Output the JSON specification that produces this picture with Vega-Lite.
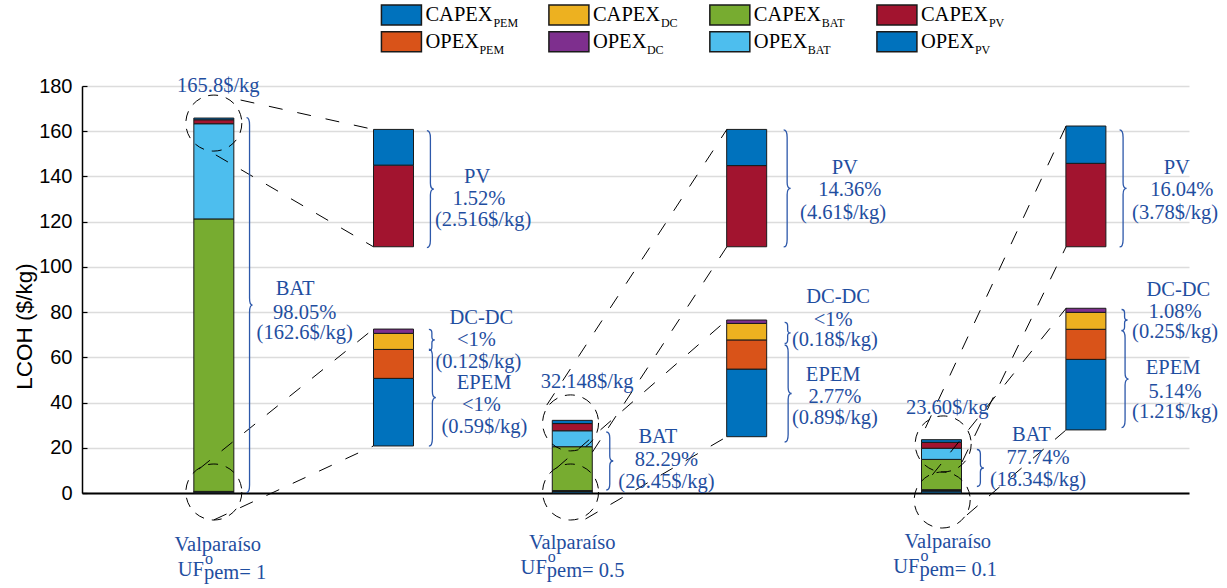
{
 "$schema": "https://vega.github.io/schema/vega-lite/v6.json",
 "width": 1107, "height": 407,
 "autosize": {"type": "none"},
 "padding": {"left": 82, "top": 86, "right": 38, "bottom": 95},
 "background": "white",
 "config": {
  "view": {"stroke": null},
  "axisY": {"tickCount": 10, "grid": true, "gridColor": "#dcdcdc", "gridWidth": 1.5, "domainColor": "black", "domainWidth": 1.5, "tickColor": "black", "tickSize": -5, "tickWidth": 1.2, "labelPadding": 15, "labelFont": "Liberation Sans", "labelFontSize": 20, "labelColor": "black", "titleFont": "Liberation Sans", "titleFontSize": 22.5, "titleFontWeight": "normal", "titleColor": "black", "titleX": -46, "titleY": 240},
  "axisX": {"domain": true, "domainColor": "black", "domainWidth": 2, "labels": false, "ticks": false, "grid": false}
 },
 "datasets": {
  "bars": [
   {"site": "S1", "pos": 12.8, "comp": "CAPEX_PEM", "k": 1, "v": 0.41},
   {"site": "S1", "pos": 12.8, "comp": "OPEX_PEM", "k": 2, "v": 0.18},
   {"site": "S1", "pos": 12.8, "comp": "CAPEX_DC", "k": 3, "v": 0.095},
   {"site": "S1", "pos": 12.8, "comp": "OPEX_DC", "k": 4, "v": 0.025},
   {"site": "S1", "pos": 12.8, "comp": "CAPEX_BAT", "k": 5, "v": 120.5},
   {"site": "S1", "pos": 12.8, "comp": "OPEX_BAT", "k": 6, "v": 42.1},
   {"site": "S1", "pos": 12.8, "comp": "CAPEX_PV", "k": 7, "v": 1.75},
   {"site": "S1", "pos": 12.8, "comp": "OPEX_PV", "k": 8, "v": 0.766},
   {"site": "S2", "pos": 48.97, "comp": "CAPEX_PEM", "k": 1, "v": 0.62},
   {"site": "S2", "pos": 48.97, "comp": "OPEX_PEM", "k": 2, "v": 0.27},
   {"site": "S2", "pos": 48.97, "comp": "CAPEX_DC", "k": 3, "v": 0.15},
   {"site": "S2", "pos": 48.97, "comp": "OPEX_DC", "k": 4, "v": 0.03},
   {"site": "S2", "pos": 48.97, "comp": "CAPEX_BAT", "k": 5, "v": 19.4},
   {"site": "S2", "pos": 48.97, "comp": "OPEX_BAT", "k": 6, "v": 7.05},
   {"site": "S2", "pos": 48.97, "comp": "CAPEX_PV", "k": 7, "v": 3.19},
   {"site": "S2", "pos": 48.97, "comp": "OPEX_PV", "k": 8, "v": 1.42},
   {"site": "S3", "pos": 86.23, "comp": "CAPEX_PEM", "k": 1, "v": 0.85},
   {"site": "S3", "pos": 86.23, "comp": "OPEX_PEM", "k": 2, "v": 0.36},
   {"site": "S3", "pos": 86.23, "comp": "CAPEX_DC", "k": 3, "v": 0.2},
   {"site": "S3", "pos": 86.23, "comp": "OPEX_DC", "k": 4, "v": 0.05},
   {"site": "S3", "pos": 86.23, "comp": "CAPEX_BAT", "k": 5, "v": 13.4},
   {"site": "S3", "pos": 86.23, "comp": "OPEX_BAT", "k": 6, "v": 4.94},
   {"site": "S3", "pos": 86.23, "comp": "CAPEX_PV", "k": 7, "v": 2.61},
   {"site": "S3", "pos": 86.23, "comp": "OPEX_PV", "k": 8, "v": 1.17}
  ],
  "insets": [
   {"pos": 30.93, "comp": "CAPEX_PV", "lo": 108.9, "hi": 145.0},
   {"pos": 30.93, "comp": "OPEX_PV", "lo": 145.0, "hi": 160.8},
   {"pos": 30.93, "comp": "CAPEX_PEM", "lo": 20.8, "hi": 50.7},
   {"pos": 30.93, "comp": "OPEX_PEM", "lo": 50.7, "hi": 63.5},
   {"pos": 30.93, "comp": "CAPEX_DC", "lo": 63.5, "hi": 70.6},
   {"pos": 30.93, "comp": "OPEX_DC", "lo": 70.6, "hi": 72.5},
   {"pos": 66.57, "comp": "CAPEX_PV", "lo": 108.9, "hi": 144.8},
   {"pos": 66.57, "comp": "OPEX_PV", "lo": 144.8, "hi": 160.8},
   {"pos": 66.57, "comp": "CAPEX_PEM", "lo": 24.9, "hi": 54.8},
   {"pos": 66.57, "comp": "OPEX_PEM", "lo": 54.8, "hi": 67.7},
   {"pos": 66.57, "comp": "CAPEX_DC", "lo": 67.7, "hi": 75.0},
   {"pos": 66.57, "comp": "OPEX_DC", "lo": 75.0, "hi": 76.5},
   {"pos": 100.8, "comp": "CAPEX_PV", "lo": 108.9, "hi": 145.8},
   {"pos": 100.8, "comp": "OPEX_PV", "lo": 145.8, "hi": 162.3},
   {"pos": 100.8, "comp": "CAPEX_PEM", "lo": 27.9, "hi": 59.1},
   {"pos": 100.8, "comp": "OPEX_PEM", "lo": 59.1, "hi": 72.4},
   {"pos": 100.8, "comp": "CAPEX_DC", "lo": 72.4, "hi": 79.9},
   {"pos": 100.8, "comp": "OPEX_DC", "lo": 79.9, "hi": 81.7}
  ],
  "zoomlines": [
   {"xa": 15.5, "ya": 173.8, "xb": 28.9, "yb": 160.8},
   {"xa": 13.0, "ya": 149.5, "xb": 28.9, "yb": 108.9},
   {"xa": 11.3, "ya": 10.6, "xb": 28.9, "yb": 72.5},
   {"xa": 12.8, "ya": -11.9, "xb": 28.9, "yb": 20.8},
   {"xa": 46.4, "ya": 38.9, "xb": 64.57, "yb": 160.8},
   {"xa": 51.0, "ya": 18.1, "xb": 64.57, "yb": 108.9},
   {"xa": 47.4, "ya": 11.1, "xb": 64.57, "yb": 76.5},
   {"xa": 50.3, "ya": -11.5, "xb": 64.57, "yb": 24.9},
   {"xa": 84.6, "ya": 28.7, "xb": 98.8, "yb": 162.3},
   {"xa": 88.3, "ya": 13.7, "xb": 98.8, "yb": 108.9},
   {"xa": 85.3, "ya": 8.0, "xb": 98.8, "yb": 81.7},
   {"xa": 88.8, "ya": -9.7, "xb": 98.8, "yb": 27.9}
  ],
  "ellipses": [
   {"x": 12.8, "y": 163.6}, {"x": 12.8, "y": 0.44},
   {"x": 48.8, "y": 31.0}, {"x": 48.8, "y": 0.44},
   {"x": 86.4, "y": 21.7}, {"x": 86.3, "y": -3.1}
  ],
  "braces": [
   {"x": 16.1, "y": 83.1, "kind": "bat1"},
   {"x": 34.3, "y": 134.4, "kind": "pv"},
   {"x": 70.3, "y": 134.7, "kind": "pv"},
   {"x": 104.2, "y": 134.7, "kind": "pv"},
   {"x": 34.5, "y": 67.7, "kind": "dc"},
   {"x": 70.4, "y": 70.8, "kind": "dc"},
   {"x": 104.4, "y": 76.5, "kind": "dc"},
   {"x": 34.5, "y": 42.2, "kind": "epem"},
   {"x": 70.4, "y": 44.0, "kind": "epem"},
   {"x": 104.4, "y": 50.4, "kind": "epem"},
   {"x": 52.4, "y": 14.15, "kind": "bat2"},
   {"x": 89.8, "y": 11.06, "kind": "bat3"}
  ],
  "labels": [
   {"x": 13.25, "y": 180.0, "t": "165.8$/kg"},
   {"x": 21.0, "y": 90.2, "t": "BAT"},
   {"x": 21.97, "y": 79.8, "t": "98.05%"},
   {"x": 21.97, "y": 70.8, "t": "(162.6$/kg)"},
   {"x": 13.2, "y": -23.0, "t": "Valparaíso"},
   {"x": 39.37, "y": 139.9, "t": "PV"},
   {"x": 39.55, "y": 130.0, "t": "1.52%"},
   {"x": 39.97, "y": 120.7, "t": "(2.516$/kg)"},
   {"x": 39.8, "y": 77.4, "t": "DC-DC"},
   {"x": 39.3, "y": 67.7, "t": "<1%"},
   {"x": 39.5, "y": 58.1, "t": "(0.12$/kg)"},
   {"x": 40.07, "y": 48.6, "t": "EPEM"},
   {"x": 39.8, "y": 38.9, "t": "<1%"},
   {"x": 40.1, "y": 29.3, "t": "(0.59$/kg)"},
   {"x": 50.47, "y": 49.2, "t": "32.148$/kg"},
   {"x": 57.6, "y": 24.9, "t": "BAT"},
   {"x": 58.47, "y": 14.6, "t": "82.29%"},
   {"x": 58.47, "y": 5.0, "t": "(26.45$/kg)"},
   {"x": 48.97, "y": -22.2, "t": "Valparaíso"},
   {"x": 76.47, "y": 143.6, "t": "PV"},
   {"x": 76.97, "y": 134.0, "t": "14.36%"},
   {"x": 76.3, "y": 123.7, "t": "(4.61$/kg)"},
   {"x": 75.8, "y": 86.8, "t": "DC-DC"},
   {"x": 75.3, "y": 76.5, "t": "<1%"},
   {"x": 75.47, "y": 67.7, "t": "(0.18$/kg)"},
   {"x": 75.3, "y": 52.2, "t": "EPEM"},
   {"x": 75.47, "y": 42.6, "t": "2.77%"},
   {"x": 75.47, "y": 33.0, "t": "(0.89$/kg)"},
   {"x": 86.8, "y": 37.6, "t": "23.60$/kg"},
   {"x": 95.3, "y": 25.65, "t": "BAT"},
   {"x": 95.97, "y": 15.35, "t": "77.74%"},
   {"x": 95.97, "y": 5.75, "t": "(18.34$/kg)"},
   {"x": 86.87, "y": -21.5, "t": "Valparaíso"},
   {"x": 109.97, "y": 143.6, "t": "PV"},
   {"x": 110.47, "y": 134.0, "t": "16.04%"},
   {"x": 109.8, "y": 123.7, "t": "(3.78$/kg)"},
   {"x": 110.13, "y": 89.8, "t": "DC-DC"},
   {"x": 109.8, "y": 80.2, "t": "1.08%"},
   {"x": 109.8, "y": 71.3, "t": "(0.25$/kg)"},
   {"x": 109.6, "y": 55.15, "t": "EPEM"},
   {"x": 109.8, "y": 44.8, "t": "5.14%"},
   {"x": 109.8, "y": 35.96, "t": "(1.21$/kg)"}
  ],
  "uf": [
   {"x": 11.8, "y": -34.05, "head": "UF", "sup": "o", "tail": "pem= 1"},
   {"x": 46.4, "y": -33.2, "head": "UF", "sup": "o", "tail": "pem= 0.5"},
   {"x": 84.0, "y": -32.6, "head": "UF", "sup": "o", "tail": "pem= 0.1"}
  ],
  "legend": [
   {"comp": "CAPEX_PEM", "main": "CAPEX", "sub": "PEM", "lx": 31.73, "ly": 211.4},
   {"comp": "CAPEX_DC", "main": "CAPEX", "sub": "DC", "lx": 48.63, "ly": 211.4},
   {"comp": "CAPEX_BAT", "main": "CAPEX", "sub": "BAT", "lx": 64.87, "ly": 211.4},
   {"comp": "CAPEX_PV", "main": "CAPEX", "sub": "PV", "lx": 81.73, "ly": 211.4},
   {"comp": "OPEX_PEM", "main": "OPEX", "sub": "PEM", "lx": 31.73, "ly": 199.6},
   {"comp": "OPEX_DC", "main": "OPEX", "sub": "DC", "lx": 48.63, "ly": 199.6},
   {"comp": "OPEX_BAT", "main": "OPEX", "sub": "BAT", "lx": 64.87, "ly": 199.6},
   {"comp": "OPEX_PV", "main": "OPEX", "sub": "PV", "lx": 81.73, "ly": 199.6}
  ]
 },
 "layer": [
  {
   "data": {"name": "bars"},
   "transform": [{"stack": "v", "groupby": ["site"], "sort": [{"field": "k", "order": "ascending"}], "as": ["v0", "v1"]}],
   "mark": {"type": "bar", "width": 40, "stroke": "#1a1a1a", "strokeWidth": 1},
   "encoding": {
    "x": {"field": "pos", "type": "quantitative", "scale": {"domain": [0, 110.7], "nice": false, "zero": false}, "title": null},
    "y": {"field": "v0", "type": "quantitative", "scale": {"domain": [0, 180], "nice": false}, "title": "LCOH ($/kg)"},
    "y2": {"field": "v1"},
    "fill": {"field": "comp", "type": "nominal", "legend": null, "scale": {"domain": ["CAPEX_PEM", "OPEX_PEM", "CAPEX_DC", "OPEX_DC", "CAPEX_BAT", "OPEX_BAT", "CAPEX_PV", "OPEX_PV"], "range": ["#0072BD", "#D95319", "#EDB120", "#7E2F8E", "#77AC30", "#4DBEEE", "#A2142F", "#0072BD"]}}
   }
  },
  {
   "data": {"name": "insets"},
   "mark": {"type": "bar", "width": 40, "stroke": "#1a1a1a", "strokeWidth": 1},
   "encoding": {
    "x": {"field": "pos", "type": "quantitative", "scale": {"domain": [0, 110.7], "nice": false, "zero": false}, "title": null},
    "y": {"field": "lo", "type": "quantitative", "scale": {"domain": [0, 180], "nice": false}, "title": "LCOH ($/kg)"},
    "y2": {"field": "hi"},
    "fill": {"field": "comp", "type": "nominal", "legend": null, "scale": {"domain": ["CAPEX_PEM", "OPEX_PEM", "CAPEX_DC", "OPEX_DC", "CAPEX_BAT", "OPEX_BAT", "CAPEX_PV", "OPEX_PV"], "range": ["#0072BD", "#D95319", "#EDB120", "#7E2F8E", "#77AC30", "#4DBEEE", "#A2142F", "#0072BD"]}}
   }
  },
  {
   "data": {"name": "zoomlines"},
   "mark": {"type": "rule", "color": "black", "strokeWidth": 1, "strokeDash": [14, 15]},
   "encoding": {
    "x": {"field": "xa", "type": "quantitative", "scale": {"domain": [0, 110.7], "nice": false, "zero": false}, "title": null},
    "y": {"field": "ya", "type": "quantitative", "scale": {"domain": [0, 180], "nice": false}, "title": "LCOH ($/kg)"},
    "x2": {"field": "xb"},
    "y2": {"field": "yb"}
   }
  },
  {
   "data": {"name": "ellipses"},
   "mark": {"type": "point", "shape": "circle", "size": 3136, "filled": false, "color": "black", "strokeWidth": 1, "strokeDash": [10, 8], "opacity": 1},
   "encoding": {
    "x": {"field": "x", "type": "quantitative", "scale": {"domain": [0, 110.7], "nice": false, "zero": false}, "title": null},
    "y": {"field": "y", "type": "quantitative", "scale": {"domain": [0, 180], "nice": false}, "title": "LCOH ($/kg)"}
   }
  },
  {
   "data": {"name": "braces"},
   "mark": {"type": "point", "size": 4, "filled": false, "color": "#2D58AA", "strokeWidth": 1.3, "opacity": 1},
   "encoding": {
    "x": {"field": "x", "type": "quantitative", "scale": {"domain": [0, 110.7], "nice": false, "zero": false}, "title": null},
    "y": {"field": "y", "type": "quantitative", "scale": {"domain": [0, 180], "nice": false}, "title": "LCOH ($/kg)"},
    "shape": {"field": "kind", "type": "nominal", "legend": null, "scale": {"domain": ["bat1", "pv", "dc", "epem", "bat2", "bat3"], "range": [
     "M0,-187.5 C2,-187.5 3,-185 3,-180 L3,-7 C3,-2 4,0 6,0 C4,0 3,2 3,7 L3,180 C3,185 2,187.5 0,187.5",
     "M0,-58.5 C2.5,-58.5 3.5,-56 3.5,-51 L3.5,-6 C3.5,-2 4.5,0 7,0 C4.5,0 3.5,2 3.5,6 L3.5,51 C3.5,56 2.5,58.5 0,58.5",
     "M0,-10.5 C2,-10.5 3,-9 3,-7 L3,-3 C3,-1 4,0 6,0 C4,0 3,1 3,3 L3,7 C3,9 2,10.5 0,10.5",
     "M0,-48.5 C2.5,-48.5 3.5,-46 3.5,-41 L3.5,-6 C3.5,-2 4.5,0 7,0 C4.5,0 3.5,2 3.5,6 L3.5,41 C3.5,46 2.5,48.5 0,48.5",
     "M0,-29 C2.5,-29 3.5,-27 3.5,-23 L3.5,-5 C3.5,-2 4.5,0 7,0 C4.5,0 3.5,2 3.5,5 L3.5,23 C3.5,27 2.5,29 0,29",
     "M0,-18.5 C2.5,-18.5 3.5,-17 3.5,-14 L3.5,-4 C3.5,-1.5 4.5,0 7,0 C4.5,0 3.5,1.5 3.5,4 L3.5,14 C3.5,17 2.5,18.5 0,18.5"
    ]}}
   }
  },
  {
   "data": {"name": "labels"},
   "mark": {"type": "text", "font": "Liberation Serif, Times New Roman, serif", "fontSize": 20.5, "color": "#1F4EA0", "align": "center", "baseline": "middle"},
   "encoding": {
    "x": {"field": "x", "type": "quantitative", "scale": {"domain": [0, 110.7], "nice": false, "zero": false}, "title": null},
    "y": {"field": "y", "type": "quantitative", "scale": {"domain": [0, 180], "nice": false}, "title": "LCOH ($/kg)"},
    "text": {"field": "t"}
   }
  },
  {
   "data": {"name": "uf"},
   "mark": {"type": "text", "font": "Liberation Serif, Times New Roman, serif", "fontSize": 20.5, "color": "#1F4EA0", "align": "right", "baseline": "middle"},
   "encoding": {
    "x": {"field": "x", "type": "quantitative", "scale": {"domain": [0, 110.7], "nice": false, "zero": false}, "title": null},
    "y": {"field": "y", "type": "quantitative", "scale": {"domain": [0, 180], "nice": false}, "title": "LCOH ($/kg)"},
    "text": {"field": "head"}
   }
  },
  {
   "data": {"name": "uf"},
   "mark": {"type": "text", "font": "Liberation Serif, Times New Roman, serif", "fontSize": 16, "color": "#1F4EA0", "align": "left", "baseline": "middle", "dx": 1, "dy": -11},
   "encoding": {
    "x": {"field": "x", "type": "quantitative", "scale": {"domain": [0, 110.7], "nice": false, "zero": false}, "title": null},
    "y": {"field": "y", "type": "quantitative", "scale": {"domain": [0, 180], "nice": false}, "title": "LCOH ($/kg)"},
    "text": {"field": "sup"}
   }
  },
  {
   "data": {"name": "uf"},
   "mark": {"type": "text", "font": "Liberation Serif, Times New Roman, serif", "fontSize": 20.5, "color": "#1F4EA0", "align": "left", "baseline": "middle", "dy": 3},
   "encoding": {
    "x": {"field": "x", "type": "quantitative", "scale": {"domain": [0, 110.7], "nice": false, "zero": false}, "title": null},
    "y": {"field": "y", "type": "quantitative", "scale": {"domain": [0, 180], "nice": false}, "title": "LCOH ($/kg)"},
    "text": {"field": "tail"}
   }
  },
  {
   "data": {"name": "legend"},
   "mark": {"type": "point", "shape": "M-20,-10H20V10H-20Z", "size": 4, "filled": true, "stroke": "#1a1a1a", "strokeWidth": 1.5, "opacity": 1},
   "encoding": {
    "x": {"field": "lx", "type": "quantitative", "scale": {"domain": [0, 110.7], "nice": false, "zero": false}, "title": null},
    "y": {"field": "ly", "type": "quantitative", "scale": {"domain": [0, 180], "nice": false}, "title": "LCOH ($/kg)"},
    "fill": {"field": "comp", "type": "nominal", "legend": null, "scale": {"domain": ["CAPEX_PEM", "OPEX_PEM", "CAPEX_DC", "OPEX_DC", "CAPEX_BAT", "OPEX_BAT", "CAPEX_PV", "OPEX_PV"], "range": ["#0072BD", "#D95319", "#EDB120", "#7E2F8E", "#77AC30", "#4DBEEE", "#A2142F", "#0072BD"]}}
   }
  },
  {
   "data": {"name": "legend"},
   "mark": {"type": "text", "font": "Liberation Serif, Times New Roman, serif", "fontSize": 20.5, "color": "black", "align": "left", "baseline": "middle", "dx": 24},
   "encoding": {
    "x": {"field": "lx", "type": "quantitative", "scale": {"domain": [0, 110.7], "nice": false, "zero": false}, "title": null},
    "y": {"field": "ly", "type": "quantitative", "scale": {"domain": [0, 180], "nice": false}, "title": "LCOH ($/kg)"},
    "text": {"field": "main"}
   }
  },
  {
   "data": {"name": "legend"},
   "transform": [{"filter": "datum.main === 'CAPEX'"}],
   "mark": {"type": "text", "font": "Liberation Serif, Times New Roman, serif", "fontSize": 12, "color": "black", "align": "left", "baseline": "middle", "dx": 92, "dy": 8},
   "encoding": {
    "x": {"field": "lx", "type": "quantitative", "scale": {"domain": [0, 110.7], "nice": false, "zero": false}, "title": null},
    "y": {"field": "ly", "type": "quantitative", "scale": {"domain": [0, 180], "nice": false}, "title": "LCOH ($/kg)"},
    "text": {"field": "sub"}
   }
  },
  {
   "data": {"name": "legend"},
   "transform": [{"filter": "datum.main === 'OPEX'"}],
   "mark": {"type": "text", "font": "Liberation Serif, Times New Roman, serif", "fontSize": 12, "color": "black", "align": "left", "baseline": "middle", "dx": 78, "dy": 8},
   "encoding": {
    "x": {"field": "lx", "type": "quantitative", "scale": {"domain": [0, 110.7], "nice": false, "zero": false}, "title": null},
    "y": {"field": "ly", "type": "quantitative", "scale": {"domain": [0, 180], "nice": false}, "title": "LCOH ($/kg)"},
    "text": {"field": "sub"}
   }
  }
 ]
}
